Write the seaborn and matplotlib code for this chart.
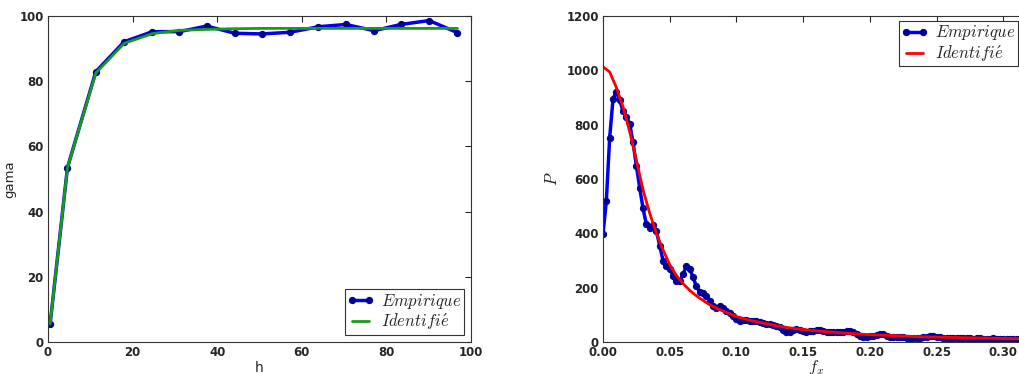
import numpy as np
import pandas as pd
import seaborn as sns
import matplotlib
matplotlib.use("Agg")
import matplotlib.pyplot as plt

# left panel: gama vs h
h = [0.5, 4.6, 11.3, 18.0, 24.7, 31.0, 37.5, 44.2, 50.5, 57.2, 63.9, 70.4, 77.1, 83.4, 90.1, 96.8]
gama_emp = [5.5, 53.5, 82.9, 92.1, 95.2, 95.2, 96.9, 94.7, 94.5, 95.0, 96.7, 97.4, 95.5, 97.4, 98.6, 94.9]
gama_id = [5.5, 53.5, 82.5, 91.6, 94.6, 95.6, 95.9, 96.1, 96.2, 96.2, 96.2, 96.2, 96.2, 96.2, 96.2, 96.2]

# right panel: P vs f_x
fx_step = 0.0025
P_emp = [397, 519, 752, 895, 921, 890, 850, 829, 804, 735,
         649, 568, 492, 433, 421, 430, 409, 354, 300, 278,
         268, 244, 223, 223, 251, 278, 270, 238, 205, 185,
         180, 168, 150, 131, 125, 133, 125, 113, 106, 97,
         85, 78, 82, 80, 79, 77, 76, 74, 70, 68,
         66, 62, 60, 55, 45, 35, 38, 44, 47, 45,
         40, 38, 40, 42, 44, 43, 40, 37, 36, 36,
         37, 36, 38, 41, 40, 36, 28, 22, 20, 20,
         21, 22, 25, 30, 29, 22, 19, 18, 20, 19,
         17, 15, 14, 15, 16, 15, 17, 19, 21, 22,
         20, 18, 16, 15, 16, 15, 14, 15, 16, 15,
         13, 12, 13, 14, 12, 11, 12, 13, 12, 11,
         12, 11, 10, 11, 12, 11, 10, 11, 10, 10,
         11, 10, 10]
fx_id = [0.0, 0.005, 0.01, 0.015, 0.02, 0.025, 0.03, 0.035, 0.04, 0.045,
         0.05, 0.055, 0.06, 0.065, 0.07, 0.075, 0.08, 0.0875, 0.1, 0.11,
         0.12, 0.13, 0.14, 0.15, 0.16, 0.17, 0.18, 0.19, 0.2, 0.22,
         0.24, 0.26, 0.28, 0.3, 0.33]
P_id = [1013, 994, 937, 866, 774, 670, 560, 474, 400, 339,
        285, 245, 215, 190, 170, 153, 137, 119, 94, 80,
        70, 60, 52, 46, 41, 37, 33, 30, 27, 23,
        19, 17, 15, 13, 11]

fx_emp = np.arange(len(P_emp)) * fx_step

sns.set_style("white", {"xtick.direction": "in", "ytick.direction": "in",
                        "axes.edgecolor": "#333333"})
plt.rcParams["mathtext.fontset"] = "cm"
plt.rcParams["font.family"] = ["DejaVu Sans"]

fig = plt.figure(figsize=(10.19, 3.74), dpi=100)
ax1 = fig.add_axes([48 / 1019, 32 / 374, 423 / 1019, 326 / 374])
ax2 = fig.add_axes([603 / 1019, 32 / 374, 427 / 1019, 326 / 374])

emp_kw = dict(color="#0000ee", lw=2.5, marker="o", markersize=4.5,
              markeredgecolor="#000099", markerfacecolor="#000099", sort=False)

left = pd.DataFrame({"h": h, "emp": gama_emp, "id": gama_id})
sns.lineplot(data=left, x="h", y="emp", ax=ax1, label=r"$Empirique$", **emp_kw)
sns.lineplot(data=left, x="h", y="id", ax=ax1, color="#1a9a1a", lw=2, label=r"$Identifi\acute{e}$")
ax1.set_xlim(0, 100)
ax1.set_ylim(0, 100)
ax1.set_xlabel("h", fontsize=10, labelpad=1)
ax1.set_ylabel("gama", fontsize=9.5, labelpad=2)

emp = pd.DataFrame({"fx": fx_emp, "P": P_emp})
ident = pd.DataFrame({"fx": fx_id, "P": P_id})
sns.lineplot(data=emp, x="fx", y="P", ax=ax2, label=r"$Empirique$", **emp_kw)
sns.lineplot(data=ident, x="fx", y="P", ax=ax2, color="red", lw=2, label=r"$Identifi\acute{e}$")
ax2.set_xlim(0, 0.32)
ax2.set_ylim(0, 1200)
ax2.set_xticks([0, 0.05, 0.1, 0.15, 0.2, 0.25, 0.3])
ax2.set_xticklabels(["0.00", "0.05", "0.10", "0.15", "0.20", "0.25", "0.30"])
ax2.set_xlabel(r"$f_x$", fontsize=12, labelpad=-1)
ax2.set_ylabel(r"$P$", fontsize=12)

leg_kw = dict(numpoints=2, fontsize=12, fancybox=False, framealpha=1,
              edgecolor="#333333", handlelength=1.6, borderpad=0.15,
              labelspacing=0.05, handletextpad=0.4)

for ax in (ax1, ax2):
    ax.tick_params(which="both", direction="in", length=4, width=0.8,
                   top=True, right=True, labelsize=8.5, pad=3)
    for lab in ax.get_xticklabels() + ax.get_yticklabels():
        lab.set_fontweight("bold")
    for sp in ax.spines.values():
        sp.set_linewidth(0.8)

leg1 = ax1.legend(loc="lower right", borderaxespad=0.45, **leg_kw)
leg1.get_frame().set_linewidth(0.8)
# right panel is cropped at the figure edge, so pin its legend to the figure
leg2 = ax2.legend(loc="upper right", bbox_to_anchor=(1017.5 / 1019, 1 - 21 / 374),
                  bbox_transform=fig.transFigure, borderaxespad=0, **leg_kw)
leg2.get_frame().set_linewidth(0.8)

fig.savefig("out.png", dpi=100)
